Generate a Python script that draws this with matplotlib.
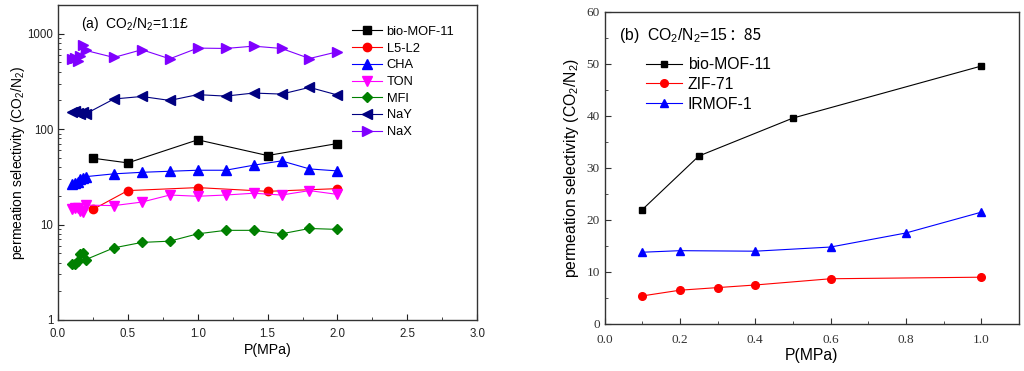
import matplotlib
matplotlib.use("Agg")
import matplotlib.pyplot as plt
from matplotlib.ticker import MultipleLocator, LogLocator, NullFormatter, FixedLocator, FormatStrFormatter

plt.rcParams['font.family'] = ['Liberation Sans', 'DejaVu Sans']
plt.rcParams['mathtext.fontset'] = 'custom'
plt.rcParams['mathtext.rm'] = 'Liberation Sans'
plt.rcParams['mathtext.it'] = 'Liberation Sans:italic'

# ---- panel (a) data: CO2/N2 = 1:1 ----
p_bio = [0.25, 0.5, 1.0, 1.5, 2.0]
s_bio = [49.6, 44.3, 77.3, 52.9, 70.7]

p_l5 = [0.25, 0.5, 1.0, 1.5, 2.0]
s_l5 = [14.4, 22.7, 24.4, 22.3, 23.8]

p_zeo = [0.1, 0.12, 0.14, 0.16, 0.18, 0.2, 0.4, 0.6, 0.8, 1.0, 1.2, 1.4, 1.6, 1.8, 2.0]
s_cha = [26.6, 27.3, 28.2, 30.1, 31.0, 31.8, 34.0, 35.3, 36.2, 37.1, 37.1, 41.9, 46.5, 38.3, 36.5]
s_ton = [14.5, 15.0, 15.0, 14.0, 13.5, 16.0, 15.8, 17.2, 20.4, 19.8, 20.4, 21.3, 20.4, 22.7, 20.7]
s_mfi = [3.9, 3.85, 4.2, 4.9, 5.0, 4.3, 5.7, 6.5, 6.7, 8.0, 8.7, 8.7, 8.0, 9.1, 8.9]
s_nay = [152, 155, 148, 145, 150, 145, 207, 220, 200, 230, 222, 239, 233, 274, 228]
s_nax = [540, 560, 520, 580, 766, 668, 564, 680, 546, 707, 701, 741, 701, 550, 647]

# ---- panel (b) data: CO2/N2 = 15:85 ----
p_bio_b = [0.1, 0.25, 0.5, 1.0]
s_bio_b = [22.0, 32.3, 39.6, 49.6]
p_zif = [0.1, 0.2, 0.3, 0.4, 0.6, 1.0]
s_zif = [5.4, 6.5, 7.0, 7.5, 8.7, 9.0]
p_irm = [0.1, 0.2, 0.4, 0.6, 0.8, 1.0]
s_irm = [13.8, 14.1, 14.0, 14.8, 17.5, 21.5]

fig = plt.figure(figsize=(10.24, 3.71), dpi=100)
ax1 = fig.add_axes([0.0566, 0.1375, 0.4094, 0.849])
ax2 = fig.add_axes([0.5905, 0.1267, 0.4045, 0.841])

spine_c = '#333333'
lw = 0.8

# panel (a)
ax1.plot(p_bio, s_bio, '-s', color='black', lw=lw, ms=5.5, label='bio-MOF-11')
ax1.plot(p_l5, s_l5, '-o', color='red', lw=lw, ms=6, label='L5-L2')
ax1.plot(p_zeo, s_cha, '-^', color='blue', lw=lw, ms=6.5, label='CHA')
ax1.plot(p_zeo, s_ton, '-v', color='magenta', lw=lw, ms=6.5, label='TON')
ax1.plot(p_zeo, s_mfi, '-D', color='green', lw=lw, ms=5, label='MFI')
ax1.plot(p_zeo, s_nay, '-<', color='navy', lw=lw, ms=6.5, label='NaY')
ax1.plot(p_zeo, s_nax, '->', color='#8000ff', lw=lw, ms=6.5, label='NaX')

ax1.set_yscale('log')
ax1.set_ylim(1, 2000)
ax1.set_xlim(0, 3.0)
ax1.xaxis.set_major_locator(MultipleLocator(0.5))
ax1.xaxis.set_minor_locator(MultipleLocator(0.25))
ax1.yaxis.set_major_locator(FixedLocator([1, 10, 100, 1000]))
ax1.yaxis.set_minor_locator(LogLocator(base=10, subs=range(2, 10)))
ax1.yaxis.set_minor_formatter(NullFormatter())
ax1.set_yticklabels(['1', '10', '100', '1000'])
ax1.tick_params(which='both', direction='in', top=False, right=False,
                labelsize=8.3, colors='#222222')
ax1.tick_params(which='major', length=4)
ax1.tick_params(which='minor', length=2.5)
ax1.tick_params(axis='x', pad=6)
ax1.set_xlabel('P(MPa)', fontsize=10.2, labelpad=2)
ax1.set_ylabel('permeation selectivity (CO$_2$/N$_2$)', fontsize=10, labelpad=0)
ax1.text(0.055, 0.94, '(a)  CO$_2$/N$_2$=1:1£', transform=ax1.transAxes,
         fontsize=10, va='center', ha='left')
ax1.legend(loc='upper left', bbox_to_anchor=(0.69, 0.95), frameon=False,
           fontsize=9.3, handlelength=2.3, handletextpad=0.35,
           labelspacing=0.36, borderaxespad=0)

# panel (b)
ax2.plot(p_bio_b, s_bio_b, '-s', color='black', lw=lw, ms=5, label='bio-MOF-11')
ax2.plot(p_zif, s_zif, '-o', color='red', lw=lw, ms=5.5, label='ZIF-71')
ax2.plot(p_irm, s_irm, '-^', color='blue', lw=lw, ms=6, label='IRMOF-1')

ax2.set_xlim(0, 1.1)
ax2.set_ylim(0, 60)
ax2.xaxis.set_major_locator(MultipleLocator(0.2))
ax2.xaxis.set_minor_locator(MultipleLocator(0.1))
ax2.yaxis.set_major_locator(MultipleLocator(10))
ax2.yaxis.set_minor_locator(MultipleLocator(5))
ax2.xaxis.set_major_formatter(FormatStrFormatter('%.1f'))
ax2.tick_params(which='both', direction='in', top=False, right=False,
                labelsize=9.5, colors='#333333')
ax2.tick_params(which='major', length=4)
ax2.tick_params(which='minor', length=2.5)
ax2.tick_params(axis='x', pad=7)
for lab in ax2.get_xticklabels() + ax2.get_yticklabels():
    lab.set_family(['Liberation Serif', 'DejaVu Serif'])
ax2.set_xlabel('P(MPa)', fontsize=11.3, labelpad=2)
ax2.set_ylabel('permeation selectivity (CO$_2$/N$_2$)', fontsize=11.3, labelpad=4)
ax2.legend(loc='upper left', bbox_to_anchor=(0.085, 0.875), frameon=False,
           fontsize=11.3, handlelength=2.3, handletextpad=0.35,
           labelspacing=0.3, borderaxespad=0)

# title of (b): full-width colon needs a CJK font, so it is drawn as a second piece
t1 = ax2.text(0.035, 0.91, '(b)  CO$_2$/N$_2$=15', transform=ax2.transAxes,
              fontsize=11.3, va='baseline', ha='left')
fig.canvas.draw()
bb = t1.get_window_extent(fig.canvas.get_renderer())
x_end = ax2.transAxes.inverted().transform((bb.x1, bb.y0))[0]
ax2.text(x_end, 0.91, '：85', transform=ax2.transAxes, fontsize=11.3,
         va='baseline', ha='left', family=['Noto Sans CJK SC', 'Liberation Sans'])

for ax in (ax1, ax2):
    for sp in ax.spines.values():
        sp.set_color(spine_c)
        sp.set_linewidth(1.0)

fig.savefig('out.png', dpi=100)
